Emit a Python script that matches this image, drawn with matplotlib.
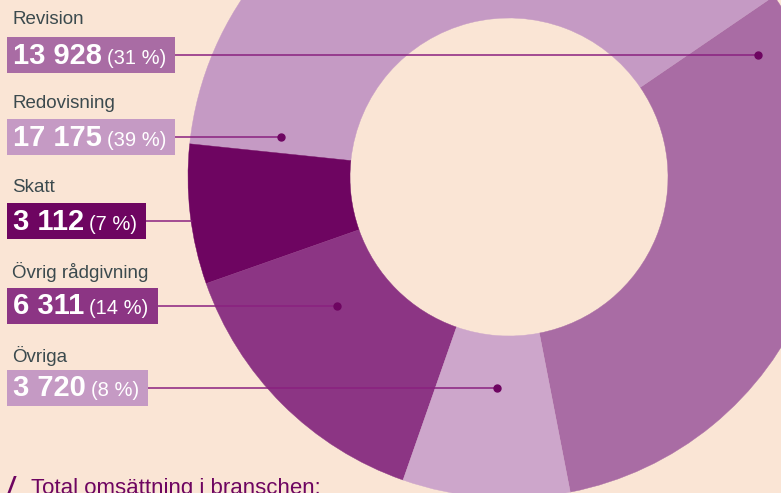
import matplotlib
matplotlib.use("Agg")
from matplotlib import pyplot as plt
from matplotlib.patches import Rectangle

# data
categories = ["Revision", "Redovisning", "Skatt", "Övrig rådgivning", "Övriga"]
values = [13928, 17175, 3112, 6311, 3720]
wedge_colors = ["#A96CA4", "#C59AC4", "#6E0561", "#8C3584", "#CDA6CB"]
box_colors = ["#A96CA4", "#C59AC4", "#6E0561", "#8C3584", "#C59AC4"]
footer = "Total omsättning i branschen:"

# layout (pixels from top-left)
W, H = 781, 493
bg = "#FAE5D5"
name_y = [20, 104, 188, 272, 356]
box_top = [37, 119, 203, 288, 370]
box_h = 36
dot_x = [758, 281, 196, 337, 497]
line_col = "#8A2180"
dot_col = "#6E0561"
text_col = "#3B4A4E"


def Y(py):
    return H - py


plt.rcParams['font.family'] = ['Liberation Sans', 'DejaVu Sans']

fig = plt.figure(figsize=(W / 100, H / 100), dpi=100)
fig.patch.set_facecolor(bg)
ax = fig.add_axes([0, 0, 1, 1])
ax.set_facecolor(bg)

wedges, _ = ax.pie(values, colors=wedge_colors, center=(509, Y(177)), radius=321,
                   startangle=-79.0, counterclock=True, frame=True,
                   wedgeprops=dict(width=162, linewidth=0.3))
for w, c in zip(wedges, wedge_colors):
    w.set_edgecolor(c)

ax.set_xlim(0, W)
ax.set_ylim(0, H)
ax.set_aspect('equal')
ax.axis('off')

total = sum(values)
renderer = fig.canvas.get_renderer()

for i, (cat, v) in enumerate(zip(categories, values)):
    pct = round(v / total * 100)
    num = f"{v:,}".replace(",", " ")
    ax.text(12, Y(name_y[i]), cat, fontsize=13.5, color=text_col,
            ha='left', va='center', zorder=5)
    base = Y(box_top[i] + 26.5)
    t1 = ax.text(13, base, num, fontsize=21, fontweight='bold', color='white',
                 ha='left', va='baseline', zorder=6)
    x1 = t1.get_window_extent(renderer).x1
    t2 = ax.text(x1 + 5, base, f"({pct} %)", fontsize=14.5, color='white',
                 ha='left', va='baseline', zorder=6)
    x2 = t2.get_window_extent(renderer).x1
    right = x2 + 9
    ax.add_patch(Rectangle((7, Y(box_top[i] + box_h)), right - 7, box_h,
                           facecolor=box_colors[i], edgecolor='none', zorder=4))
    cy = Y(box_top[i] + box_h / 2)
    ax.plot([right, dot_x[i]], [cy, cy], color=line_col, lw=1.1, zorder=3)
    ax.plot(dot_x[i], cy, 'o', color=dot_col, ms=5, zorder=3)

ax.text(8, Y(494), "/", fontsize=17, fontweight='bold', color=dot_col,
        ha='left', va='baseline', style='italic')
ax.text(31, Y(494), footer, fontsize=16, color=dot_col,
        ha='left', va='baseline')

fig.savefig("out.png", dpi=100, facecolor=bg)
